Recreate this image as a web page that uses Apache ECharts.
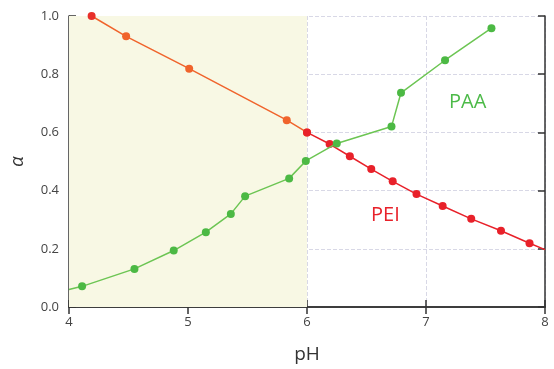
<!DOCTYPE html>
<html>
<head>
<meta charset="utf-8">
<script src="https://cdn.jsdelivr.net/npm/echarts@6/dist/echarts.min.js"></script>
<style>
  html, body { margin: 0; padding: 0; background: #fff; }
  #main { width: 554px; height: 369px; }
</style>
</head>
<body>
<div id="main"></div>
<script>
// PEI: pH and alpha values
var peiPH    = [4.19, 4.48, 5.01, 5.83, 6.00, 6.19, 6.36, 6.54, 6.72, 6.92, 7.14, 7.38, 7.63, 7.87];
var peiAlpha = [1.00, 0.930, 0.819, 0.642, 0.600, 0.560, 0.518, 0.474, 0.432, 0.388, 0.347, 0.303, 0.262, 0.219];
// line runs on to the edge of the plot
var peiEnd = [8.0, 0.197];

// PAA
var paaPH    = [4.11, 4.55, 4.88, 5.15, 5.36, 5.48, 5.85, 5.99, 6.25, 6.71, 6.79, 7.16, 7.55];
var paaAlpha = [0.071, 0.131, 0.194, 0.257, 0.320, 0.381, 0.442, 0.502, 0.562, 0.620, 0.736, 0.848, 0.958];
var paaStart = [4.0, 0.060];

// shaded pH range, PEI changes colour at its right edge
var shadeRange = [4, 6];

var chartDom = document.getElementById('main');
var myChart = echarts.init(chartDom);

function pairs(xs, ys) {
    var out = [];
    xs.forEach(function (v, i) {
        out.push([v, ys[i]]);
    });
    return out;
}

var peiAll = pairs(peiPH, peiAlpha);
var peiLow = peiAll.filter(function (p) { return p[0] <= shadeRange[1]; });
var peiHigh = peiAll.filter(function (p) { return p[0] >= shadeRange[1]; });
peiHigh.push({ value: peiEnd, symbol: 'none' });
// first point is drawn red in the original
peiLow[0] = { value: peiLow[0], itemStyle: { color: '#e8302a' } };

var paaData = [{ value: paaStart, symbol: 'none' }].concat(pairs(paaPH, paaAlpha));

var font = 'Open Sans, DejaVu Sans, sans-serif';
var axisCol = '#333';

option = {
    animation: false,
    grid: { left: 69, right: 9, top: 16, bottom: 61 },
    xAxis: [{
        type: 'value',
        min: 4, max: 8, interval: 1,
        name: 'pH',
        nameLocation: 'middle',
        nameGap: 38,
        nameTextStyle: { fontSize: 19, color: '#333', fontFamily: font },
        axisLine: { lineStyle: { color: axisCol, width: 1.5 } },
        axisTick: { inside: true, length: 7, lineStyle: { color: axisCol, width: 1.5 } },
        axisLabel: { fontSize: 13, color: '#444', fontFamily: font, margin: 9 },
        splitLine: { show: true, lineStyle: { color: '#d8d8e6', type: 'dashed', width: 1 } }
    }, {
        type: 'value',
        position: 'top',
        min: 4, max: 8, interval: 1,
        axisLine: { show: true, lineStyle: { color: axisCol, width: 1.5 } },
        axisTick: { inside: true, length: 7, lineStyle: { color: axisCol, width: 1.5 } },
        axisLabel: { show: false },
        splitLine: { show: false }
    }],
    yAxis: [{
        type: 'value',
        min: 0, max: 1, interval: 0.2,
        name: 'α',
        nameLocation: 'middle',
        nameRotate: 90,
        nameGap: 42,
        nameTextStyle: { fontSize: 19, color: '#333', fontStyle: 'italic', fontFamily: font },
        axisLine: { show: true, lineStyle: { color: axisCol, width: 1.5 } },
        axisTick: { show: true, inside: true, length: 7, lineStyle: { color: axisCol, width: 1.5 } },
        axisLabel: {
            fontSize: 13, color: '#444', fontFamily: font, margin: 10,
            formatter: function (v) { return v.toFixed(1); }
        },
        splitLine: { show: true, lineStyle: { color: '#d8d8e6', type: 'dashed', width: 1 } }
    }, {
        type: 'value',
        position: 'right',
        min: 0, max: 1, interval: 0.2,
        axisLine: { show: true, lineStyle: { color: axisCol, width: 1.5 } },
        axisTick: { show: true, inside: true, length: 7, lineStyle: { color: axisCol, width: 1.5 } },
        axisLabel: { show: false },
        splitLine: { show: false }
    }],
    series: [{
        name: 'PEI',
        type: 'line',
        data: peiLow,
        symbol: 'circle',
        symbolSize: 8,
        itemStyle: { color: '#f0642c' },
        lineStyle: { width: 1.5, color: '#f0642c' },
        z: 3,
        markArea: {
            silent: true,
            itemStyle: { color: '#f8f8e4' },
            data: [[{ xAxis: shadeRange[0] }, { xAxis: shadeRange[1] }]]
        }
    }, {
        name: 'PEI',
        type: 'line',
        data: peiHigh,
        symbol: 'circle',
        symbolSize: 8,
        itemStyle: { color: '#e8212a' },
        lineStyle: { width: 1.5, color: '#e8212a' },
        z: 3
    }, {
        name: 'PAA',
        type: 'line',
        data: paaData,
        symbol: 'circle',
        symbolSize: 8,
        itemStyle: { color: '#4cb944' },
        lineStyle: { width: 1.5, color: '#6cc553' },
        z: 4
    }],
    graphic: [{
        type: 'text',
        left: 449, top: 92,
        style: { text: 'PAA', fill: '#4cba48', fontSize: 20, fontFamily: font }
    }, {
        type: 'text',
        left: 371, top: 205,
        style: { text: 'PEI', fill: '#e8212a', fontSize: 20, fontFamily: font }
    }]
};

myChart.setOption(option);
</script>
</body>
</html>
